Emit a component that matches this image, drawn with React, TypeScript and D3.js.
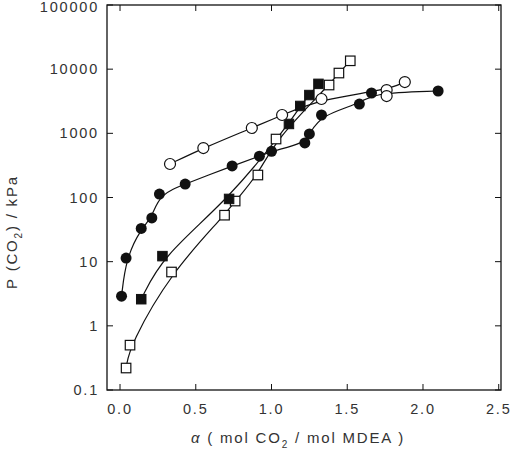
import * as d3 from "d3";
import React, { useRef, useEffect } from "react";

// filled circles
const fcX = [0.01, 0.04, 0.14, 0.21, 0.26, 0.43, 0.74, 0.92, 1.0, 1.22, 1.25, 1.33, 1.58, 1.66, 2.1];
const fcY = [2.9, 11.4, 33, 48, 113, 162, 310, 440, 525, 708, 980, 1930, 2860, 4250, 4570];
// open circles
const ocX = [0.33, 0.55, 0.87, 1.07, 1.33, 1.76, 1.76, 1.88];
const ocY = [333, 590, 1210, 1930, 3430, 4730, 3810, 6300];
// filled squares
const fsX = [0.14, 0.28, 0.72, 1.115, 1.19, 1.25, 1.31];
const fsY = [2.6, 12.2, 95, 1400, 2670, 3950, 5900];
// open squares
const osX = [0.04, 0.066, 0.34, 0.69, 0.76, 0.91, 1.03, 1.38, 1.445, 1.52];
const osY = [0.22, 0.5, 6.9, 53, 88, 224, 815, 5660, 8700, 13500];

const xTicks = [0, 0.5, 1.0, 1.5, 2.0, 2.5];
const yTicks = [0.1, 1, 10, 100, 1000, 10000, 100000];
const yTickLabels = ["0.1", "1", "10", "100", "1000", "10000", "100000"];

const W = 517;
const H = 467;
const left = 107, right = 501, top = 5, bottom = 390;
const font = "'Liberation Sans', Arial, sans-serif";

function zip(xs: number[], ys: number[]) {
  return xs.map((x, i) => [x, ys[i]] as [number, number]);
}

function Chart() {
  const ref = useRef<SVGSVGElement>(null);

  useEffect(() => {
    const svg = d3.select(ref.current);
    svg.selectAll("*").remove();

    const x = d3.scaleLinear().domain([-0.086, 2.515]).range([left, right]);
    const y = d3.scaleLog().domain([0.1, 100000]).range([bottom, top]);

    // frame
    svg.append("rect")
      .attr("x", left).attr("y", top)
      .attr("width", right - left).attr("height", bottom - top)
      .attr("fill", "none").attr("stroke", "#111").attr("stroke-width", 1.3);

    // ticks, inward on all sides
    const tl = 6;
    xTicks.forEach((t) => {
      svg.append("line").attr("x1", x(t)).attr("x2", x(t))
        .attr("y1", bottom).attr("y2", bottom - tl)
        .attr("stroke", "#111").attr("stroke-width", 1);
      svg.append("line").attr("x1", x(t)).attr("x2", x(t))
        .attr("y1", top).attr("y2", top + tl)
        .attr("stroke", "#111").attr("stroke-width", 1);
      svg.append("text").attr("x", x(t)).attr("y", 414)
        .attr("text-anchor", "middle")
        .attr("font-family", font).attr("font-size", 14.5)
        .attr("letter-spacing", 1.8).attr("fill", "#333")
        .text(t.toFixed(1));
    });
    yTicks.forEach((t, i) => {
      svg.append("line").attr("x1", left).attr("x2", left + tl)
        .attr("y1", y(t)).attr("y2", y(t))
        .attr("stroke", "#111").attr("stroke-width", 1);
      svg.append("line").attr("x1", right).attr("x2", right - tl)
        .attr("y1", y(t)).attr("y2", y(t))
        .attr("stroke", "#111").attr("stroke-width", 1);
      svg.append("text").attr("x", 99).attr("y", Math.max(y(t) + 5, 12))
        .attr("text-anchor", "end")
        .attr("font-family", font).attr("font-size", 14.5)
        .attr("letter-spacing", 1.8).attr("fill", "#333")
        .text(yTickLabels[i]);
    });

    const line = d3.line<[number, number]>()
      .x((d) => x(d[0])).y((d) => y(d[1]))
      .curve(d3.curveBasis);

    const curves = [
      zip(fcX, fcY),
      zip(ocX, ocY).filter((d, i) => i !== 6),
      zip(fsX, fsY),
      zip(osX, osY),
    ];
    curves.forEach((pts) => {
      svg.append("path").attr("d", line(pts))
        .attr("fill", "none").attr("stroke", "#111").attr("stroke-width", 1.2);
    });

    const sq = 9.5;
    svg.append("g").selectAll("rect").data(zip(osX, osY)).enter().append("rect")
      .attr("x", (d) => x(d[0]) - sq / 2).attr("y", (d) => y(d[1]) - sq / 2)
      .attr("width", sq).attr("height", sq)
      .attr("fill", "white").attr("stroke", "#111").attr("stroke-width", 1.2);
    svg.append("g").selectAll("rect").data(zip(fsX, fsY)).enter().append("rect")
      .attr("x", (d) => x(d[0]) - sq / 2).attr("y", (d) => y(d[1]) - sq / 2)
      .attr("width", sq).attr("height", sq)
      .attr("fill", "#111").attr("stroke", "#111").attr("stroke-width", 1);
    svg.append("g").selectAll("circle").data(zip(ocX, ocY)).enter().append("circle")
      .attr("cx", (d) => x(d[0])).attr("cy", (d) => y(d[1])).attr("r", 5.5)
      .attr("fill", "white").attr("stroke", "#111").attr("stroke-width", 1.2);
    svg.append("g").selectAll("circle").data(zip(fcX, fcY)).enter().append("circle")
      .attr("cx", (d) => x(d[0])).attr("cy", (d) => y(d[1])).attr("r", 5.5)
      .attr("fill", "#111");

    // axis titles
    const xt = svg.append("text").attr("x", 298).attr("y", 443)
      .attr("text-anchor", "middle")
      .attr("font-family", font).attr("font-size", 15)
      .attr("letter-spacing", 1.8).attr("fill", "#333");
    xt.append("tspan").attr("font-style", "italic").text("α");
    xt.append("tspan").text(" (  mol CO");
    xt.append("tspan").attr("dy", 5).attr("font-size", 10).text("2");
    xt.append("tspan").attr("dy", -5).text("  /  mol MDEA  )");

    const yt = svg.append("text")
      .attr("transform", "translate(17,232) rotate(-90)")
      .attr("text-anchor", "middle")
      .attr("font-family", font).attr("font-size", 15)
      .attr("letter-spacing", 1.8).attr("fill", "#333");
    yt.append("tspan").text("P");
    yt.append("tspan").text(" (CO");
    yt.append("tspan").attr("dy", 5).attr("font-size", 10).text("2");
    yt.append("tspan").attr("dy", -5).text(")  /  kPa");
  }, []);

  return <svg ref={ref} width={W} height={H} style={{ position: "absolute", left: 0, top: 0, background: "white" }} />;
}

export default function App() {
  return <Chart />;
}
